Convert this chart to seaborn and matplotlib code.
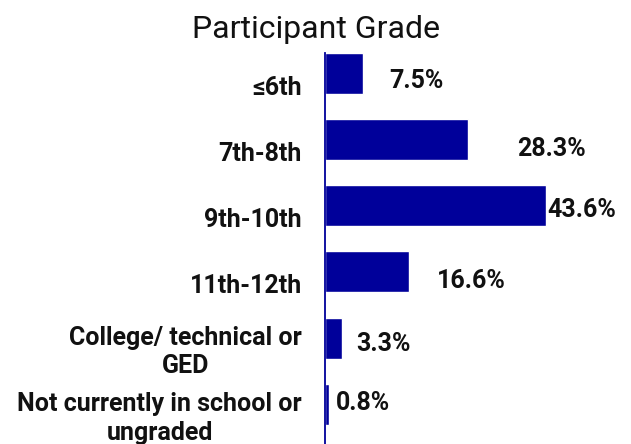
import matplotlib
matplotlib.use("Agg")
import matplotlib.pyplot as plt
import matplotlib.transforms as mtransforms
import pandas as pd
import seaborn as sns

grades = ["≤6th", "7th-8th", "9th-10th", "11th-12th",
          "College/ technical or\nGED", "Not currently in school or\nungraded"]
percents = [7.5, 28.3, 43.6, 16.6, 3.3, 0.8]
value_labels = ["7.5%", "28.3%", "43.6%", "16.6%", "3.3%", "0.8%"]

# the original labels were nudged by hand, so keep the nudges (in px)
label_dx = [26, 49, 1, 28, 15, 7]
label_dy = [-7, -9, -4, -9, -6, 1]

NAVY = "#00009a"

sns.set_style("white")
plt.rcParams["font.family"] = ["Roboto", "DejaVu Sans"]

df = pd.DataFrame({"grade": grades, "percent": percents})

fig = plt.figure(figsize=(6.31, 4.44), dpi=100)
ax = fig.add_axes([325 / 631, 0, 1 - 325 / 631, 1 - 53 / 444])

sns.barplot(data=df, x="percent", y="grade", color=NAVY, saturation=1,
            width=0.62, orient="h", ax=ax)

ax.set_xlim(0, 60.4)
ax.set_ylim(5.6, -0.31)
ax.set_xlabel("")
ax.set_ylabel("")
ax.set_xticks([])

for side in ["top", "right", "bottom"]:
    ax.spines[side].set_visible(False)
ax.spines["left"].set_color(NAVY)
ax.spines["left"].set_linewidth(1.3)

ax.tick_params(axis="y", length=0, pad=16.5)
for lbl in ax.get_yticklabels():
    # category labels sit a little below the bar centres in the original
    down = 9 if "\n" in lbl.get_text() else 12
    shift = mtransforms.ScaledTranslation(0, -down / 100, fig.dpi_scale_trans)
    lbl.set_fontsize(18)
    lbl.set_fontweight("bold")
    lbl.set_color("#111111")
    lbl.set_multialignment("center")
    lbl.set_linespacing(1.25)
    lbl.set_transform(lbl.get_transform() + shift)

for i, (val, txt) in enumerate(zip(percents, value_labels)):
    ax.annotate(txt, xy=(val, i), xytext=(label_dx[i] * 0.72, label_dy[i] * 0.72),
                textcoords="offset points", ha="left", va="center",
                fontsize=18, fontweight="bold", color="#111111")

fig.text(0.5, 1 - 38 / 444, "Participant Grade", ha="center", va="baseline",
         fontsize=23, color="#111111")

fig.savefig("out.png", dpi=100)
